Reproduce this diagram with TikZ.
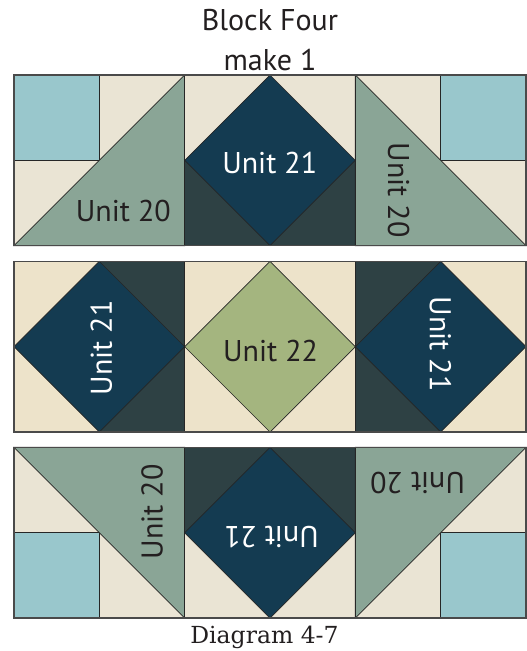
\documentclass[tikz,border=0pt]{standalone}
\usepackage{fontspec}
\setmainfont{PT Sans}
\newfontfamily\capfont{DejaVu Serif}
\definecolor{blueL}{HTML}{99C7CC}
\definecolor{cream}{HTML}{EAE4D4}
\definecolor{creamB}{HTML}{EDE3CA}
\definecolor{sage}{HTML}{8AA596}
\definecolor{navy}{HTML}{143B51}
\definecolor{slate}{HTML}{2E4144}
\definecolor{green}{HTML}{A4B57F}
\definecolor{edge}{HTML}{262626}
\definecolor{framec}{HTML}{4A4A4A}
\definecolor{ink}{HTML}{231F20}
\tikzset{
  piece/.style={draw=edge, line width=0.7pt},
  frame/.style={draw=framec, line width=1.4pt},
  lbl/.style={font=\fontsize{30}{30}\selectfont, inner sep=0pt},
  darklbl/.style={lbl, text=ink},
  lightlbl/.style={lbl, text=white},
}
\begin{document}
\begin{tikzpicture}[x=1pt,y=-1pt]
\useasboundingbox (0,0) rectangle (527,651);
% ---------- Row 1 ----------
\fill[cream] (14,75) rectangle (184.67,245.67);
\filldraw[piece, fill=blueL] (14,75) rectangle (99.33,160.33);
\filldraw[piece, fill=sage] (14,245.67) -- (184.67,75) -- (184.67,245.67) -- cycle;
\fill[cream] (184.67,75) rectangle (355.33,160.33);
\fill[slate] (184.67,160.33) rectangle (355.33,245.67);
\filldraw[piece, fill=navy] (270,75) -- (355.33,160.33) -- (270,245.67) -- (184.67,160.33) -- cycle;
\fill[cream] (355.33,75) rectangle (526,245.67);
\filldraw[piece, fill=blueL] (440.67,75) rectangle (526,160.33);
\filldraw[piece, fill=sage] (355.33,75) -- (526,245.67) -- (355.33,245.67) -- cycle;
\draw[piece] (184.67,75) -- (184.67,245.67) (355.33,75) -- (355.33,245.67);
\draw[frame] (14,75) rectangle (526,245.67);
% ---------- Row 2 ----------
\fill[creamB] (14,261.33) rectangle (99.33,432);
\fill[slate] (99.33,261.33) rectangle (184.67,432);
\filldraw[piece, fill=navy] (99.33,261.33) -- (184.67,346.67) -- (99.33,432) -- (14,346.67) -- cycle;
\fill[creamB] (184.67,261.33) rectangle (355.33,432);
\filldraw[piece, fill=green] (270,261.33) -- (355.33,346.67) -- (270,432) -- (184.67,346.67) -- cycle;
\fill[slate] (355.33,261.33) rectangle (440.67,432);
\fill[creamB] (440.67,261.33) rectangle (526,432);
\filldraw[piece, fill=navy] (440.67,261.33) -- (526,346.67) -- (440.67,432) -- (355.33,346.67) -- cycle;
\draw[piece] (184.67,261.33) -- (184.67,432) (355.33,261.33) -- (355.33,432);
\draw[frame] (14,261.33) rectangle (526,432);
% ---------- Row 3 ----------
\fill[cream] (14,447.33) rectangle (184.67,618);
\filldraw[piece, fill=blueL] (14,532.67) rectangle (99.33,618);
\filldraw[piece, fill=sage] (14,447.33) -- (184.67,447.33) -- (184.67,618) -- cycle;
\fill[slate] (184.67,447.33) rectangle (355.33,532.67);
\fill[cream] (184.67,532.67) rectangle (355.33,618);
\filldraw[piece, fill=navy] (270,447.33) -- (355.33,532.67) -- (270,618) -- (184.67,532.67) -- cycle;
\fill[cream] (355.33,447.33) rectangle (526,618);
\filldraw[piece, fill=blueL] (440.67,532.67) rectangle (526,618);
\filldraw[piece, fill=sage] (355.33,447.33) -- (526,447.33) -- (355.33,618) -- cycle;
\draw[piece] (184.67,447.33) -- (184.67,618) (355.33,447.33) -- (355.33,618);
\draw[frame] (14,447.33) rectangle (526,618);
% ---------- Labels ----------
\node[darklbl, anchor=base] (title1) at (270,30.7) {Block Four};
\node[darklbl, anchor=base] (title2) at (270,70) {make 1};
\node[darklbl, anchor=base] (r1a) at (123.3,221.7) {Unit 20};
\node[lightlbl, anchor=base] (r1b) at (269.7,173.3) {Unit 21};
\node[darklbl, rotate=-90] (r1c) at (398.6,190) {Unit 20};
\node[lightlbl, rotate=90] (r2a) at (101.3,348) {Unit 21};
\node[darklbl, anchor=base] (r2b) at (270.6,361) {Unit 22};
\node[lightlbl, rotate=-90] (r2c) at (440.3,344) {Unit 21};
\node[darklbl, rotate=90] (r3a) at (152,512) {Unit 20};
\node[lightlbl, rotate=180] (r3b) at (271.5,537) {Unit 21};
\node[darklbl, rotate=180] (r3c) at (417.6,483) {Unit 20};
\node[inner sep=0pt, anchor=base, text=ink, font=\capfont\fontsize{23.5}{23.5}\selectfont] (cap) at (264.5,643.3) {Diagram 4-7};
\end{tikzpicture}
\end{document}
